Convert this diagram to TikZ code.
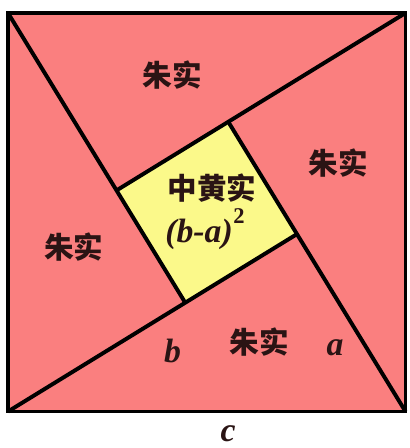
\documentclass[tikz,border=0pt]{standalone}
\usepackage{fontspec}
\setmainfont{Liberation Serif}
\newfontfamily\cjk{Noto Sans CJK SC}
\definecolor{zhu}{HTML}{FA7F7F}
\definecolor{huang}{HTML}{FBF98A}
\definecolor{ink}{HTML}{2A1414}
\begin{document}
\begin{tikzpicture}[x=0.025cm,y=-0.025cm,
  edge/.style={draw=black,line width=2.8pt,line join=miter},
  cjklbl/.style={text=ink,font=\cjk\bfseries\fontsize{21pt}{21pt}\selectfont,inner sep=0pt},
  varlbl/.style={text=ink,font=\bfseries\itshape\fontsize{24pt}{24pt}\selectfont,inner sep=0pt,anchor=base}]
\useasboundingbox (0,0) rectangle (409,448);
\coordinate (TL) at (8,13);
\coordinate (TR) at (405.5,13);
\coordinate (BR) at (405.5,411.5);
\coordinate (BL) at (8,411.5);
\coordinate (P1) at (116.7,190.3);
\coordinate (P2) at (228.2,121.7);
\coordinate (P3) at (296.8,234.2);
\coordinate (P4) at (185.3,302.8);
\fill[zhu] (TL) rectangle (BR);
\fill[huang] (P1) -- (P2) -- (P3) -- (P4) -- cycle;
\draw[edge] (TL) -- (P4);
\draw[edge] (TR) -- (P1);
\draw[edge] (BR) -- (P2);
\draw[edge] (BL) -- (P3);
\draw[edge] (TL) rectangle (BR);
\node[cjklbl] (top) at (172,75) {朱实};
\node[cjklbl] (right) at (338,163) {朱实};
\node[cjklbl] (left) at (74,247) {朱实};
\node[cjklbl] (bottom) at (259,342) {朱实};
\node[cjklbl] (mid) at (212,188) {中黄实};
\node[varlbl,anchor=base west] (sq) at (165,242) {(b-a)\kern0.5pt\raisebox{0.55em}{\fontsize{16pt}{16pt}\selectfont\upshape 2}};
\node[varlbl] (b) at (172.5,362) {b};
\node[varlbl] (a) at (335,355) {a};
\node[varlbl] (c) at (228,441) {c};
\end{tikzpicture}
\end{document}
